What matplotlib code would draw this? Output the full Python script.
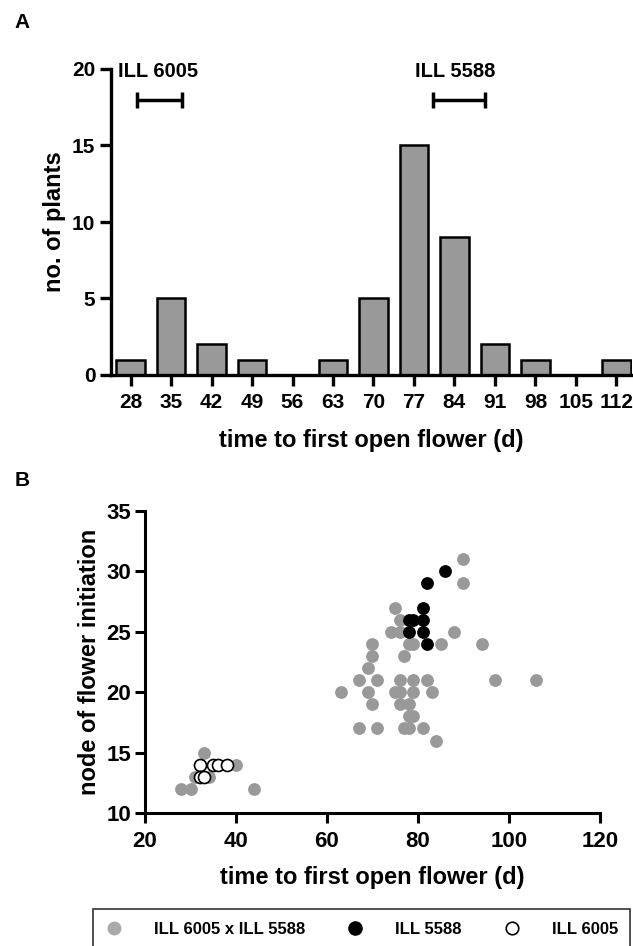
#!/usr/bin/env python3

import matplotlib
matplotlib.use("Agg")
import matplotlib.pyplot as plt
from matplotlib.lines import Line2D

plt.rcParams["font.family"] = ["Liberation Sans", "DejaVu Sans"]
plt.rcParams["font.weight"] = "bold"

# panel A: histogram of flowering time
bin_centres = [28, 35, 42, 49, 56, 63, 70, 77, 84, 91, 98, 105, 112]
n_plants = [1, 5, 2, 1, 0, 1, 5, 15, 9, 2, 1, 0, 1]

# parental ranges shown above the histogram (centre, half width)
parent_names = ["ILL 6005", "ILL 5588"]
parent_centre = [33.0, 84.8]
parent_halfwidth = [3.95, 4.5]
parent_label_x = [32.8, 84.2]

# panel B: node of flower initiation vs flowering time
f2_days = [90, 90, 75, 76, 74, 76, 78, 79, 85, 88, 94, 70, 70, 77, 69,
           67, 71, 76, 79, 82, 97, 106, 63, 69, 75, 76, 79, 83, 70, 76,
           78, 78, 79, 67, 71, 77, 78, 81, 84,
           28, 30, 44, 33, 40, 31, 34, 32, 35]
f2_node = [31, 29, 27, 26, 25, 25, 24, 24, 24, 25, 24, 24, 23, 23, 22,
           21, 21, 21, 21, 21, 21, 21, 20, 20, 20, 20, 20, 20, 19, 19,
           19, 18, 18, 17, 17, 17, 17, 17, 16,
           12, 12, 12, 15, 14, 13, 13, 14, 14]
ill5588_days = [86, 82, 81, 78, 79, 81, 78, 81, 82]
ill5588_node = [30, 29, 27, 26, 26, 26, 25, 25, 24]
ill6005_days = [32, 35, 36, 38, 32, 33]
ill6005_node = [14, 14, 14, 14, 13, 13]

W, H = 633, 946
fig = plt.figure(figsize=(W / 100, H / 100), dpi=100)

# ---------- panel A ----------
axA = fig.add_axes([110.7 / W, 1 - 375 / H, (632 - 110.7) / W, (375 - 69) / H])
axA.bar(bin_centres, n_plants, width=4.9, color="#999999",
        edgecolor="black", linewidth=1.8, zorder=2)
for name, c, hw, lx in zip(parent_names, parent_centre, parent_halfwidth, parent_label_x):
    axA.errorbar([c], [18], xerr=[hw], fmt="none", ecolor="black",
                 elinewidth=2.5, capsize=6, capthick=2.5, clip_on=False)
    axA.text(lx, 19.85, name, ha="center", va="center", fontsize=14.5,
             fontweight="bold")
axA.set_xlim(24.56, 114.7)
axA.set_ylim(0, 20)
axA.set_xticks(bin_centres)
axA.set_yticks([0, 5, 10, 15, 20])
axA.spines["top"].set_visible(False)
axA.spines["right"].set_visible(False)
for s in ["left", "bottom"]:
    axA.spines[s].set_linewidth(2.4)
axA.tick_params(axis="both", width=2.4, length=8, labelsize=15, pad=3)
axA.tick_params(axis="x", pad=5)
axA.set_ylabel("no. of plants", fontsize=17, fontweight="bold", labelpad=4)
axA.set_xlabel("time to first open flower (d)", fontsize=17,
               fontweight="bold", labelpad=12)
fig.text(22 / W, 1 - 22 / H, "A", fontsize=15, fontweight="bold",
         ha="center", va="center")

# ---------- panel B ----------
axB = fig.add_axes([145 / W, 1 - 813 / H, (600 - 145) / W, (813 - 511) / H])
axB.scatter(f2_days, f2_node, s=85, color="#999999", linewidths=0, zorder=2)
axB.scatter(ill5588_days, ill5588_node, s=85, color="black", linewidths=0, zorder=3)
axB.scatter(ill6005_days, ill6005_node, s=75, facecolor="white",
            edgecolor="black", linewidths=1.2, zorder=4)
axB.set_xlim(20, 120)
axB.set_ylim(10, 35)
axB.set_xticks([20, 40, 60, 80, 100, 120])
axB.set_yticks([10, 15, 20, 25, 30, 35])
axB.spines["top"].set_visible(False)
axB.spines["right"].set_visible(False)
for s in ["left", "bottom"]:
    axB.spines[s].set_linewidth(2.2)
axB.tick_params(axis="both", width=2.2, length=7, labelsize=16, pad=3)
axB.tick_params(axis="x", pad=6)
axB.set_ylabel("node of flower initiation", fontsize=17, fontweight="bold",
               labelpad=4)
axB.set_xlabel("time to first open flower (d)", fontsize=17,
               fontweight="bold", labelpad=10)
fig.text(22 / W, 1 - 480 / H, "B", fontsize=15, fontweight="bold",
         ha="center", va="center")

# ---------- legend ----------
handles = [
    Line2D([], [], ls="none", marker="o", ms=9, mfc="#aaaaaa", mec="#aaaaaa"),
    Line2D([], [], ls="none", marker="o", ms=9.5, mfc="black", mec="black"),
    Line2D([], [], ls="none", marker="o", ms=9, mfc="white", mec="black", mew=1.2),
]
labels = ["ILL 6005 x ILL 5588", "ILL 5588", "ILL 6005"]
leg = fig.legend(handles, labels, ncol=3, loc="upper left",
                 bbox_to_anchor=(93 / W, 1 - 909 / H), frameon=True,
                 fancybox=False, edgecolor="black", fontsize=12,
                 handlelength=1.0, handletextpad=1.9, columnspacing=2.5,
                 borderpad=0.75, borderaxespad=0)
leg.get_frame().set_linewidth(1.2)
for t in leg.get_texts():
    t.set_fontweight("bold")

fig.savefig("out.png", dpi=100)
